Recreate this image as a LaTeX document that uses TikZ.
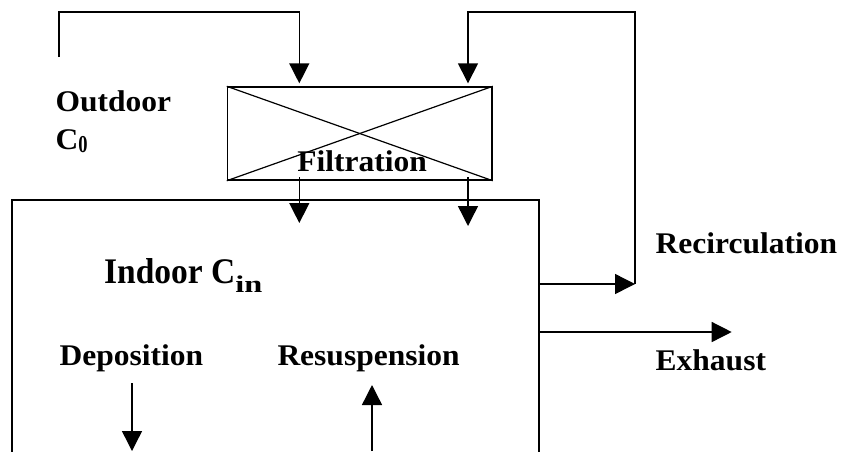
\documentclass[tikz,border=0pt]{standalone}
\usepackage{fontspec}
\setmainfont{Liberation Serif}
\newfontfamily\lblfont{Liberation Serif}[FakeStretch=1.05]
\newfontfamily\bigfont{Liberation Serif}[FakeStretch=0.93]
\usetikzlibrary{arrows.meta}
\begin{document}
\begin{tikzpicture}[x=1pt,y=-1pt,line width=1.4pt,
  >={Triangle[length=20pt,width=20pt]},
  lbl/.style={font=\lblfont\bfseries\fontsize{30}{32}\selectfont,anchor=base west,inner sep=0pt},
  biglbl/.style={font=\bigfont\bfseries\fontsize{36}{38}\selectfont,anchor=base west,inner sep=0pt},
  boxst/.style={draw,inner sep=0pt,line width=1.4pt}]
\useasboundingbox (0,0) rectangle (842,451);
% filter
\node[boxst,minimum width=264.5pt,minimum height=93pt] (filter) at (359.75,133.5) {};
\draw[line width=1.2pt] (filter.north west) -- (filter.south east);
\draw[line width=1.2pt] (filter.south west) -- (filter.north east);
% room
\coordinate (rbl) at (11.8,460);
\coordinate (rtl) at (11.8,200);
\coordinate (rtr) at (539,200);
\coordinate (rbr) at (539,460);
\draw (rbl) -- (rtl) -- (rtr) -- (rbr);
% labels
\node[lbl] (outdoor) at (55,111.7) {Outdoor};
\node[lbl] (c0) at (55,149) {C\raisebox{-3pt}{\scalebox{0.8}[1.1]{\fontsize{22}{22}\selectfont 0}}};
\node[lbl] (filt) at (296.7,171) {Filtration};
\node[biglbl] (indoor) at (103.5,283) {Indoor C\raisebox{-9pt}{\scalebox{1.45}[1]{\fontsize{24}{24}\selectfont in}}};
\node[lbl] (depo) at (59,365) {Deposition};
\node[lbl] (resus) at (276.8,365) {Resuspension};
\node[lbl] (recirc) at (655,253) {Recirculation};
\node[lbl] (exh) at (655,370) {Exhaust};
% connector coordinates
\coordinate (oa) at (59,57);
\coordinate (ta) at (299.3,12);
\coordinate (fa) at (299.3,83.3);
\coordinate (tb) at (468,12);
\coordinate (fb) at (468,83.3);
\coordinate (loopr) at (635,12);
\coordinate (recs) at (539,284);
\coordinate (rece) at (635,284);
\coordinate (exs) at (539,332);
\coordinate (exe) at (731.7,332);
\coordinate (d1s) at (299.3,177);
\coordinate (d1e) at (299.3,223);
\coordinate (d2s) at (468,177);
\coordinate (d2e) at (468,226);
\coordinate (deps) at (132,383);
\coordinate (depe) at (132,451);
\coordinate (ress) at (372,451);
\coordinate (rese) at (372,385);
% connectors
\draw[->] (oa) -- (oa |- ta) -- (ta) -- (fa);
\draw[->] (rece) -- (loopr) -- (tb) -- (fb);
\draw[->] (recs) -- (rece);
\draw[->] (exs) -- (exe);
\draw[->] (d1s) -- (d1e);
\draw[->] (d2s) -- (d2e);
\draw[->] (deps) -- (depe);
\draw[->] (ress) -- (rese);
\end{tikzpicture}
\end{document}
